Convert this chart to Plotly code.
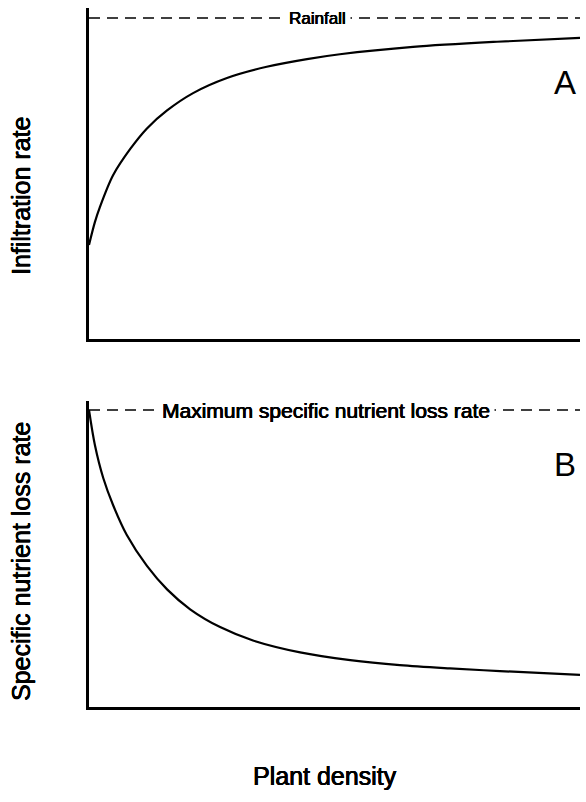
import plotly.graph_objects as go

W, H = 586, 802

# ---- data (arbitrary units 0-100) ----
density_a = [0, 1.2, 2.2, 4.9, 8.4, 11.8, 15.9, 21.2, 28.1, 36.2, 44.4, 51.1, 66.0, 83.1, 100]
infiltration = [29.3, 36.4, 41.0, 51.0, 59.2, 65.6, 71.2, 76.6, 81.3, 84.8, 87.2, 88.7, 91.0, 92.6, 93.8]

density_b = [0, 1.2, 2.9, 4.9, 7.7, 11.8, 15.9, 20.6, 26.7, 33.4, 43.0, 53.2, 63.3, 73.5, 83.7, 100]
nutrient_loss = [100, 88.2, 77.1, 68.0, 57.9, 47.5, 39.6, 32.9, 26.9, 22.4, 18.4, 15.8, 14.1, 13.0, 12.1, 10.8]

rainfall_level = 100
max_loss_level = 100
density_range = [0, 100]

# ---- layout geometry (pixels) ----
x_left, x_right = 89, 580
a_top, a_bot = 18, 339
b_top, b_bot = 410, 707
ymax = 103

def dom(top_px, bot_px):
    scale = (bot_px - top_px) / 100.0
    top_ext = bot_px - ymax * scale
    return [1 - bot_px / H, 1 - top_ext / H]

FONT = "Liberation Sans, Arial, sans-serif"
SHADOW = "0.4px 0 0 #000, -0.3px 0 0 #000, 0 0.3px 0 #000"

def fnt(size, shadow=True):
    d = dict(family=FONT, size=size, color="black")
    if shadow:
        d["shadow"] = SHADOW
    return d

fig = go.Figure()

# Panel A
fig.add_trace(go.Scatter(x=density_range, y=[rainfall_level] * 2, mode="lines",
                         line=dict(color="black", width=1.3, dash="11px,7px"),
                         xaxis="x", yaxis="y", hoverinfo="skip"))
fig.add_trace(go.Scatter(x=density_a, y=infiltration, mode="lines",
                         line=dict(color="black", width=2.2, shape="spline", smoothing=0.9),
                         xaxis="x", yaxis="y"))
# Panel B
fig.add_trace(go.Scatter(x=density_range, y=[max_loss_level] * 2, mode="lines",
                         line=dict(color="black", width=1.3, dash="11px,7px"),
                         xaxis="x2", yaxis="y2", hoverinfo="skip"))
fig.add_trace(go.Scatter(x=density_b, y=nutrient_loss, mode="lines",
                         line=dict(color="black", width=2.2, shape="spline", smoothing=0.9),
                         xaxis="x2", yaxis="y2"))

axis_common = dict(showgrid=False, zeroline=False, showticklabels=False, ticks="",
                   showline=True, linecolor="black", linewidth=3, fixedrange=True)

xdom = [x_left / W, x_right / W]
fig.update_layout(
    width=W, height=H,
    margin=dict(l=0, r=0, t=0, b=0),
    paper_bgcolor="white", plot_bgcolor="white",
    showlegend=False,
    xaxis=dict(domain=xdom, range=density_range, anchor="y", **axis_common),
    yaxis=dict(domain=dom(a_top, a_bot), range=[0, ymax], anchor="x", **axis_common),
    xaxis2=dict(domain=xdom, range=density_range, anchor="y2", **axis_common),
    yaxis2=dict(domain=dom(b_top, b_bot), range=[0, ymax], anchor="x2", **axis_common),
)

ann = []
ann.append(dict(x=46.5, y=rainfall_level, xref="x", yref="y", text="Rainfall",
                showarrow=False, bgcolor="white", borderpad=4, font=fnt(17)))
ann.append(dict(x=48.3, y=max_loss_level, xref="x2", yref="y2",
                text="Maximum specific nutrient loss rate",
                showarrow=False, bgcolor="white", borderpad=4, font=fnt(21)))
ann.append(dict(x=97, y=80, xref="x", yref="y", text="A", showarrow=False,
                font=fnt(33, shadow=False)))
ann.append(dict(x=97, y=81.5, xref="x2", yref="y2", text="B", showarrow=False,
                font=fnt(33, shadow=False)))
ann.append(dict(x=21 / W, y=1 - 196 / H, xref="paper", yref="paper", text="Infiltration rate",
                textangle=-90, showarrow=False, xanchor="center", yanchor="middle",
                font=fnt(25)))
ann.append(dict(x=21 / W, y=1 - 562 / H, xref="paper", yref="paper",
                text="Specific nutrient loss rate", textangle=-90, showarrow=False,
                xanchor="center", yanchor="middle", font=fnt(25)))
ann.append(dict(x=325 / W, y=1 - 776 / H, xref="paper", yref="paper", text="Plant density",
                showarrow=False, xanchor="center", yanchor="middle", font=fnt(25)))
fig.update_layout(annotations=ann)

fig.write_html("out.html", config={"displayModeBar": False},
               post_script="document.body.style.margin='0';document.body.style.padding='0';")
